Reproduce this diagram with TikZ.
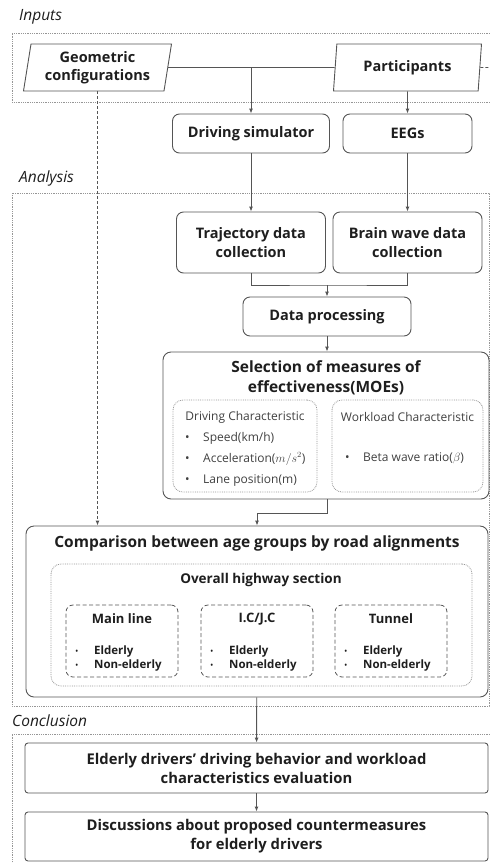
\documentclass[tikz,border=0pt]{standalone}
\usepackage{fontspec}
\setmainfont{Open Sans}
\usepackage{tikz}
\usetikzlibrary{arrows.meta,shapes.geometric}
\definecolor{LineGray}{RGB}{85,85,85}
\definecolor{FrameGray}{RGB}{150,150,150}
\definecolor{TextDark}{RGB}{30,30,30}
\newcommand{\listbullet}{\makebox[18pt][l]{\textbullet}}
\newcommand{\agebullet}{\makebox[19pt][l]{\mdseries\small\textbullet}}

\begin{document}
\begin{tikzpicture}[
 x=1pt, y=-1pt,
 frame/.style={draw=FrameGray, densely dotted, line width=0.8pt},
 sect/.style={anchor=west, inner sep=0pt, text=TextDark, font=\itshape\fontsize{15.5}{18}\selectfont},
 io/.style={draw=LineGray, line width=0.9pt, trapezium, trapezium left angle=77, trapezium right angle=103, trapezium stretches body, align=center, inner sep=0pt, minimum width=148pt, minimum height=47pt, text=TextDark, font=\bfseries\fontsize{14.5}{18}\selectfont},
 box/.style={draw=LineGray, line width=0.9pt, rounded corners=7pt, align=center, inner sep=0pt, text=TextDark, font=\bfseries\fontsize{14.5}{19}\selectfont},
 endbox/.style={box, rounded corners=3pt, minimum width=463pt, font=\bfseries\fontsize{14.8}{19}\selectfont},
 group/.style={draw=FrameGray, densely dotted, line width=0.8pt, rounded corners=10pt, inner sep=0pt},
 sub/.style={draw=LineGray, line width=0.8pt, dash pattern=on 4pt off 2.5pt, rounded corners=7pt, inner sep=0pt, minimum width=112pt, minimum height=72pt},
 title/.style={align=center, inner sep=0pt, text=TextDark, font=\bfseries\fontsize{15.5}{20}\selectfont},
 subtitle/.style={inner sep=0pt, text=TextDark, font=\bfseries\fontsize{13}{15}\selectfont},
 note/.style={inner sep=0pt, text=TextDark!85, font=\fontsize{12}{21}\selectfont},
 notelist/.style={note, anchor=west, align=left},
 agelist/.style={inner sep=0pt, anchor=west, align=left, text=TextDark, font=\bfseries\fontsize{11.5}{14}\selectfont},
 link/.style={draw=LineGray, line width=0.9pt},
 arr/.style={link, -{Latex[length=5pt,width=4pt]}}
]
\useasboundingbox (0,0) rectangle (490,863);

\draw[frame] (490,33) -- (12,33) -- (12,102) -- (490,102);
\draw[frame] (12,193) rectangle (489,706);
\draw[frame] (490,734) -- (12,734) -- (12,863);

\node[sect] (inputlab) at (19,17) {Inputs};
\node[sect] (analysislab) at (19,178) {Analysis};
\node[sect] (conclab) at (12,721) {Conclusion};

\node[io] (geo) at (97.5,67.5) {Geometric\\configurations};
\node[io] (parts) at (407.5,67.5) {Participants};

\node[box, minimum width=157pt, minimum height=39pt] (sim) at (251,133.5) {Driving simulator};
\node[box, minimum width=129pt, minimum height=39pt] (eeg) at (407.5,133.5) {EEGs};
\node[box, minimum width=149pt, minimum height=61pt] (traj) at (251,242.5) {Trajectory data\\collection};
\node[box, minimum width=149pt, minimum height=61pt] (brain) at (407.5,242.5) {Brain wave data\\collection};
\node[box, minimum width=168pt, minimum height=39pt] (proc) at (327,316.5) {Data processing};

\node[box, minimum width=326pt, minimum height=147pt, rounded corners=8pt] (moe) at (326,425.5) {};
\node[title] (moetitle) at (326,378) {Selection of measures of\\effectiveness(MOEs)};
\node[group, minimum width=144pt, minimum height=92pt] (drv) at (245,446) {};
\node[note] (drvlab) at (245,417) {Driving Characteristic};
\node[notelist] (drvlist) at (185,459) {\listbullet Speed(km/h)\\\listbullet Acceleration($m/s^2$)\\\listbullet Lane position(m)};
\node[group, minimum width=151pt, minimum height=92pt] (wl) at (407.5,446) {};
\node[note] (wllab) at (407.5,417) {Workload Characteristic};
\node[notelist] (wllist) at (345,458) {\listbullet Beta wave ratio($\beta$)};

\node[box, minimum width=462pt, minimum height=171pt, rounded corners=8pt] (cmp) at (257,611.5) {};
\node[title] (cmptitle) at (257,543) {Comparison between age groups by road alignments};
\node[group, minimum width=421pt, minimum height=122pt] (ovr) at (261.5,625) {};
\node[subtitle, font=\bfseries\fontsize{13.5}{15}\selectfont] (ovrtitle) at (261,580) {Overall highway section};
\node[sub] (mainln) at (122,641) {};
\node[subtitle] (mainlab) at (122,619) {Main line};
\node[agelist] (mainlist) at (75,659) {\agebullet Elderly\\\agebullet Non-elderly};
\node[sub] (icjc) at (257,641) {};
\node[subtitle] (icjclab) at (257,619) {I.C/J.C};
\node[agelist] (icjclist) at (210,659) {\agebullet Elderly\\\agebullet Non-elderly};
\node[sub] (tun) at (391,641) {};
\node[subtitle] (tunlab) at (391,619) {Tunnel};
\node[agelist] (tunlist) at (344,659) {\agebullet Elderly\\\agebullet Non-elderly};

\node[endbox, minimum height=50pt] (eval) at (256.5,768) {Elderly drivers’ driving behavior and workload\\characteristics evaluation};
\node[endbox, minimum height=49pt] (disc) at (256.5,836.5) {Discussions about proposed countermeasures\\for elderly drivers};

\coordinate (split) at (sim |- geo);
\coordinate (partsend) at (490,67.5);
\coordinate (merge) at (327,285);

\draw[link] (geo) -- (parts);
\draw[link, dash pattern=on 3pt off 2pt] (parts) -- (partsend);
\draw[arr] (split) -- (sim);
\draw[arr] (parts) -- (eeg);
\draw[arr, dash pattern=on 3pt off 2pt] (geo.south) -- (geo.south |- cmp.north);
\draw[arr] (sim) -- (traj);
\draw[arr] (eeg) -- (brain);
\draw[link] (traj.south) |- (merge) -| (brain.south);
\draw[arr] (merge) -- (proc);
\draw[arr] (proc) -- (proc |- moe.north);
\draw[arr] (proc |- moe.south) -- ++(0,14) -| (cmp.north);
\draw[arr] (cmp) -- (eval);
\draw[arr] (eval) -- (disc);
\end{tikzpicture}
\end{document}
